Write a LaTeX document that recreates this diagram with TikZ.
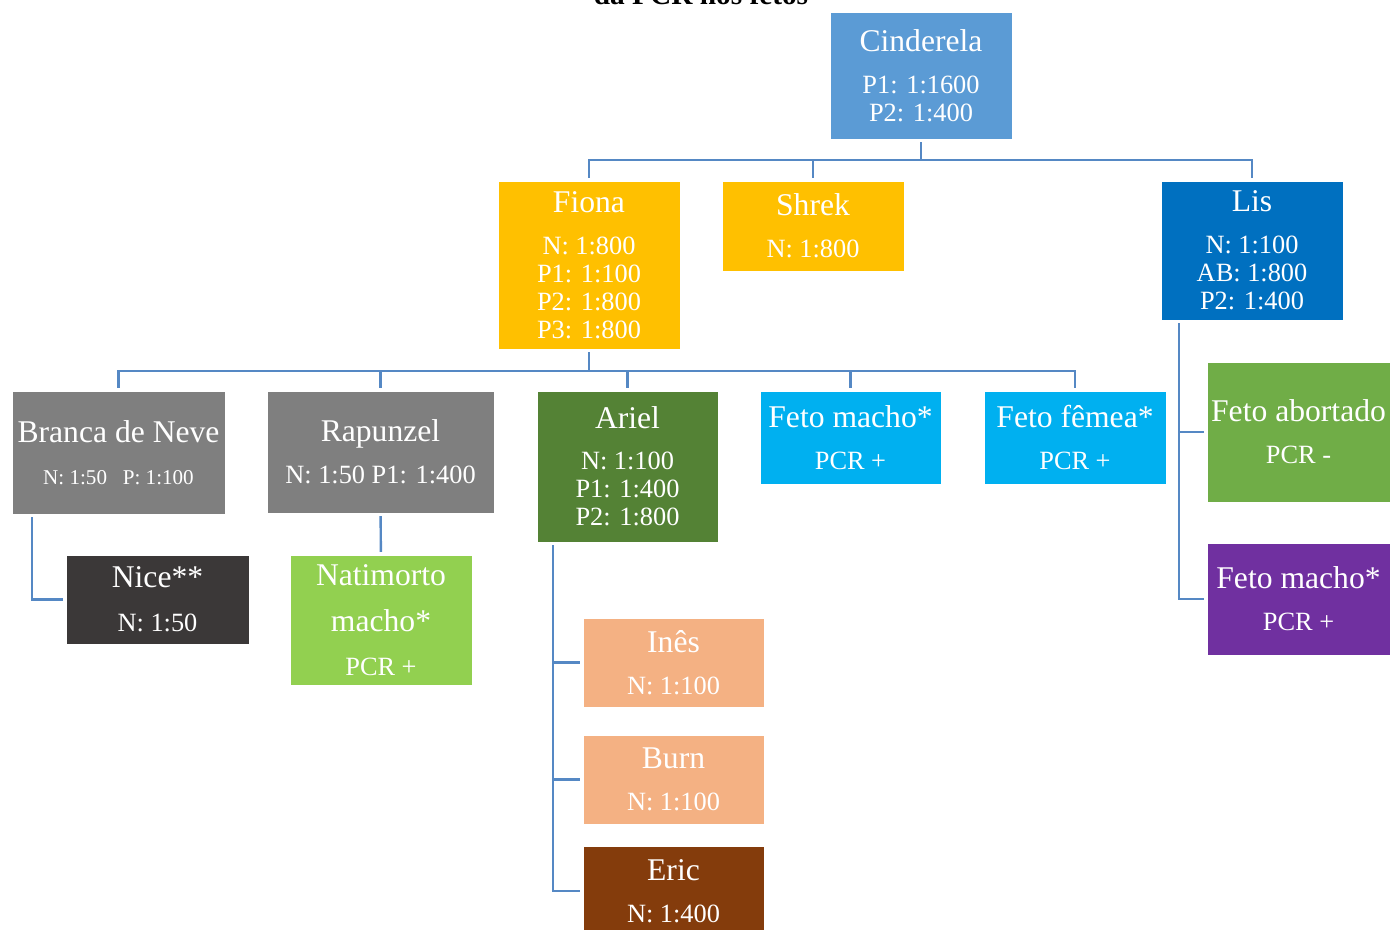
\documentclass[tikz,border=0pt]{standalone}
\usepackage{fontspec}
\setmainfont{Liberation Serif}
\usepackage{xcolor}
\usepackage{tikz}
\usetikzlibrary{positioning}

\definecolor{cinder}{HTML}{5B9BD5}
\definecolor{gold}{HTML}{FFC000}
\definecolor{lisblue}{HTML}{0070C0}
\definecolor{midgray}{HTML}{7F7F7F}
\definecolor{darkgreen}{HTML}{548235}
\definecolor{skyblue}{HTML}{00B0F0}
\definecolor{coal}{HTML}{3B3838}
\definecolor{lime}{HTML}{92D050}
\definecolor{peach}{HTML}{F4B183}
\definecolor{rust}{HTML}{843C0C}
\definecolor{leaf}{HTML}{70AD47}
\definecolor{plum}{HTML}{7030A0}
\definecolor{linkblue}{HTML}{5588C4}

\newcommand{\ttl}[1]{{\fontsize{18}{20}\selectfont #1}}

\begin{document}
\begin{tikzpicture}[x=0.02cm, y=-0.02cm,
        box/.style={rectangle, draw=white, line width=0.3pt, inner sep=0pt,
            minimum width=3.64cm, text=white, align=center,
            font=\fontsize{15}{16}\selectfont},
        link/.style={draw=linkblue, line width=1.4pt, shorten >=1.7pt},
        stub/.style={link, shorten <=1.7pt, shorten >=0pt}]
        \useasboundingbox (0,0) rectangle (1390,930);
        \clip (0,0) rectangle (1390,930);

        \node[font=\fontsize{16.7}{18}\selectfont\bfseries, anchor=base] (T) at (701,4) {da PCR nos fetos};

        % generation 1 and 2
        \node[box, fill=cinder, minimum height=2.54cm] (C) at (921,75.5) {\ttl{Cinderela}\\[8pt]P1: 1:1600\\P2: 1:400};
        \node[box, fill=gold, minimum height=3.36cm] (F) at (589,265) {\ttl{Fiona}\\[8pt]N: 1:800\\P1: 1:100\\P2: 1:800\\P3: 1:800};
        \node[box, fill=gold, minimum height=1.8cm] (S) at (813,226) {\ttl{Shrek}\\[8pt]N: 1:800};
        \node[box, fill=lisblue, minimum height=2.78cm] (L) at (1252,250.5) {\ttl{Lis}\\[8pt]N: 1:100\\AB: 1:800\\P2: 1:400};

        % children of Fiona
        \node[box, fill=midgray, minimum width=4.26cm, minimum height=2.46cm] (B) at (118.5,452.5) {\ttl{Branca de Neve}\\[8pt]{\fontsize{12}{13}\selectfont N: 1:50\hspace{9pt}P: 1:100}};
        \node[box, fill=midgray, minimum width=4.54cm, minimum height=2.44cm] (R) at (380.5,452) {\ttl{Rapunzel}\\[8pt]N: 1:50 P1: 1:400};
        \node[box, fill=darkgreen, minimum width=3.62cm, minimum height=3.02cm] (A) at (627.5,466.5) {\ttl{Ariel}\\[7pt]N: 1:100\\P1: 1:400\\P2: 1:800};
        \node[box, fill=skyblue, minimum width=3.62cm, minimum height=1.86cm] (FM) at (850.5,437.5) {\ttl{Feto macho*}\\[8pt]PCR +};
        \node[box, fill=skyblue, minimum height=1.86cm] (FF) at (1075,437.5) {\ttl{Feto fêmea*}\\[8pt]PCR +};

        % grandchildren
        \node[box, fill=coal, minimum width=3.66cm, minimum height=1.78cm] (N) at (157.5,599.5) {\ttl{Nice**}\\[9pt]N: 1:50};
        \node[box, fill=lime, minimum height=2.6cm] (NM) at (381,620) {\ttl{Natimorto}\\[10pt]\ttl{macho*}\\[9pt]PCR +};
        \node[box, fill=peach, minimum width=3.62cm, minimum height=1.78cm] (I) at (673.5,662.5) {\ttl{Inês}\\[8pt]N: 1:100};
        \node[box, fill=peach, minimum width=3.62cm, minimum height=1.78cm] (Bu) at (673.5,779.5) {\ttl{Burn}\\[8pt]N: 1:100};
        \node[box, fill=rust, minimum width=3.62cm, minimum height=1.8cm] (E) at (673.5,891) {\ttl{Eric}\\[8pt]N: 1:400};
        \node[box, fill=leaf, minimum width=3.66cm, minimum height=2.8cm] (FA) at (1298.5,432) {\ttl{Feto abortado}\\[8pt]PCR -};
        \node[box, fill=plum, minimum width=3.66cm, minimum height=2.24cm] (FP) at (1298.5,599) {\ttl{Feto macho*}\\[8pt]PCR +};

        % connectors
        \coordinate (c1) at (921,160);
        \coordinate (f1) at (589,371);
        \draw[stub] (C) -- (c1);
        \foreach \n in {F,S,L}
            \draw[link] (c1) -| (\n);
        \draw[stub] (F) -- (f1);
        \foreach \n in {B,R,A,FM,FF}
            \draw[link] (f1) -| (\n);
        \draw[link] (B.south west) ++(20,3) |- (N);
        \draw[link, shorten <=1.7pt] (R) -- (NM);
        \foreach \n in {I,Bu,E}
            \draw[link] (A.south west) ++(16,3) |- (\n);
        \foreach \n in {FA,FP}
            \draw[link] (L.south west) ++(18,3) |- (\n);
    \end{tikzpicture}
\end{document}
